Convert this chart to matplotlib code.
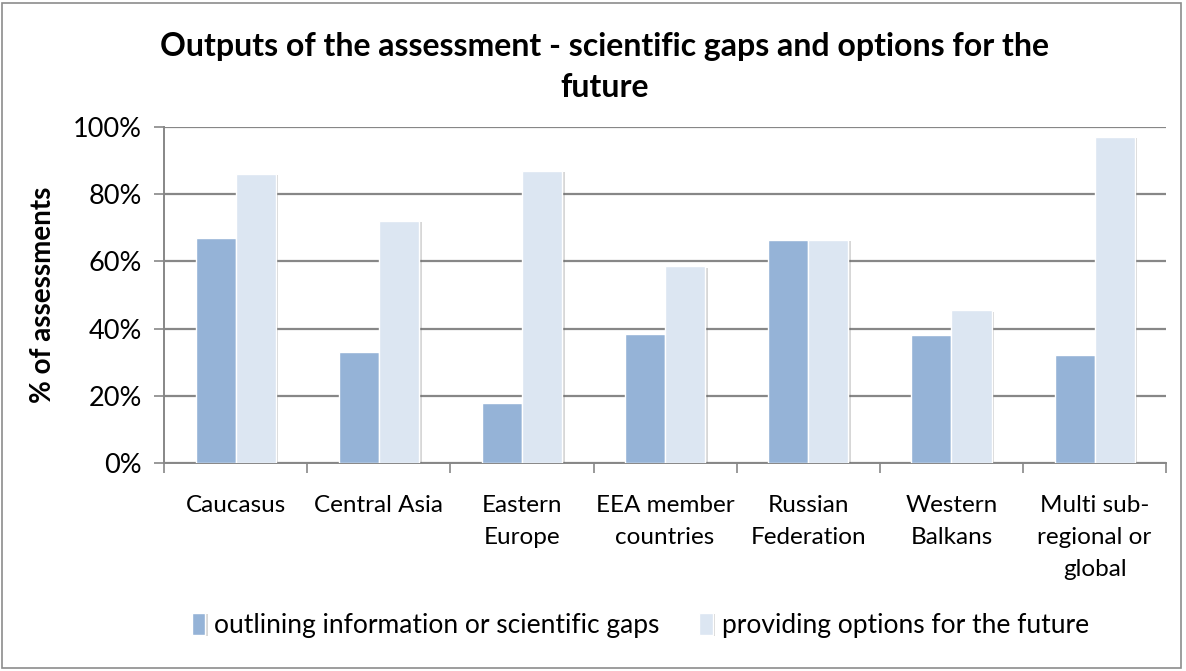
import matplotlib.pyplot as plt
import matplotlib.patheffects as pe
from matplotlib.patches import Rectangle
import numpy as np

plt.rcParams['font.family'] = ['Lato', 'DejaVu Sans']

categories = ["Caucasus", "Central Asia", "Eastern\nEurope", "EEA member\ncountries",
              "Russian\nFederation", "Western\nBalkans", "Multi sub-\nregional or\nglobal"]
gaps = [67, 33, 18, 38.5, 66.5, 38, 32]
options = [86, 72, 87, 58.5, 66.5, 45.5, 97]
series_names = ["outlining information or scientific gaps", "providing options for the future"]
yticks = [0, 20, 40, 60, 80, 100]

dark = "#95b3d7"
light = "#dce6f2"
grid_col = "#878787"

fig = plt.figure(figsize=(11.86, 6.71), dpi=100)
ax = fig.add_axes([0.1383, 0.31, 0.845, 0.5007])

x = np.arange(len(categories))
w = 0.28
shadow = [pe.SimplePatchShadow(offset=(2, -1), alpha=0.25, shadow_rgbFace="#606060"), pe.Normal()]
b1 = ax.bar(x - w / 2, gaps, w, color=dark, edgecolor="white", linewidth=1, label=series_names[0], zorder=3)
b2 = ax.bar(x + w / 2, options, w, color=light, edgecolor="white", linewidth=1, label=series_names[1], zorder=3)
for bars in (b1, b2):
    for p in bars:
        p.set_path_effects(shadow)

ax.set_xlim(-0.5, len(categories) - 0.5)
ax.set_ylim(0, 100)
ax.set_yticks(yticks)
ax.set_yticklabels([f"{v}%" for v in yticks], fontsize=19.5)
ax.yaxis.grid(True, color=grid_col, linewidth=1.6, zorder=0)
ax.set_axisbelow(True)

ax.set_xticks(x)
ax.set_xticklabels(categories, fontsize=17.5, linespacing=1.65, va="top")
ax.tick_params(axis="x", length=0, pad=23)
ax.set_xticks(np.arange(-0.5, len(categories)), minor=True)
ax.tick_params(axis="x", which="minor", length=7, width=1.2, color=grid_col)
ax.tick_params(axis="y", length=7, width=1.2, color=grid_col, pad=9)

for s in ["top", "right"]:
    ax.spines[s].set_visible(False)
for s in ["left", "bottom"]:
    ax.spines[s].set_color(grid_col)
    ax.spines[s].set_linewidth(1.4)

ax.set_ylabel("% of assessments", fontsize=20, fontweight="bold", labelpad=12)

fig.text(0.51, 0.9, "Outputs of the assessment - scientific gaps and options for the\nfuture",
         ha="center", va="center", fontsize=23, fontweight="bold", linespacing=1.5)

fig.legend(loc="center", bbox_to_anchor=(0.54, 0.068), ncol=2, frameon=False, fontsize=19,
           handlelength=0.5, handleheight=0.9, handletextpad=0.35, columnspacing=1.5)

fig.patches.append(Rectangle((0.002, 0.004), 0.994, 0.992, transform=fig.transFigure,
                             fill=False, edgecolor="#8c8c8c", linewidth=1.2))

fig.savefig("out.png", dpi=100)
